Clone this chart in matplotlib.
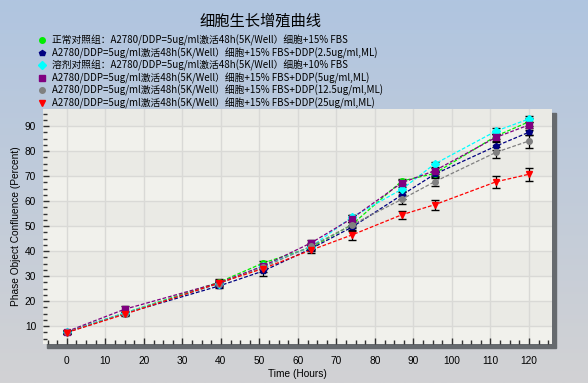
import numpy as np
import matplotlib
matplotlib.use("Agg")
import matplotlib.pyplot as plt
from matplotlib.lines import Line2D
from matplotlib.patches import Rectangle
from matplotlib.ticker import MultipleLocator

plt.rcParams['font.family'] = ['Noto Sans CJK SC', 'DejaVu Sans']

title = "细胞生长增殖曲线"
times = [0, 15, 39.5, 51, 63.5, 74, 87, 95.5, 111.5, 120]
labels = [
    "正常对照组：A2780/DDP=5ug/ml激活48h(5K/Well）细胞+15% FBS",
    "A2780/DDP=5ug/ml激活48h(5K/Well）细胞+15% FBS+DDP(2.5ug/ml,ML)",
    "溶剂对照组：A2780/DDP=5ug/ml激活48h(5K/Well）细胞+10% FBS",
    "A2780/DDP=5ug/ml激活48h(5K/Well）细胞+15% FBS+DDP(5ug/ml,ML)",
    "A2780/DDP=5ug/ml激活48h(5K/Well）细胞+15% FBS+DDP(12.5ug/ml,ML)",
    "A2780/DDP=5ug/ml激活48h(5K/Well）细胞+15% FBS+DDP(25ug/ml,ML)",
]
green = [7.7, 15.2, 27.5, 35.2, 41.5, 50.5, 68.0, 71.0, 86.0, 91.7]
navy = [7.5, 15.0, 26.0, 32.0, 41.0, 49.5, 62.4, 70.7, 82.0, 87.5]
cyan = [7.7, 15.2, 27.0, 34.0, 41.8, 53.5, 64.7, 74.8, 88.0, 92.8]
purple = [7.8, 16.7, 27.3, 34.0, 43.3, 53.0, 67.3, 72.1, 85.5, 90.4]
gray = [7.6, 15.0, 27.0, 33.5, 42.0, 50.4, 60.7, 67.7, 79.5, 84.0]
red = [7.4, 14.7, 27.2, 33.0, 40.4, 46.4, 54.5, 58.5, 67.7, 70.7]
err_green = [0.5, 0.5, 0.8, 0.8, 1.0, 1.0, 1.0, 1.0, 1.0, 1.5]
err_navy = [0.5, 0.5, 0.8, 1.8, 1.0, 1.0, 1.5, 1.0, 1.5, 1.0]
err_cyan = [0.5, 0.5, 0.5, 0.8, 0.8, 1.0, 1.0, 1.0, 1.3, 1.3]
err_purple = [0.5, 1.2, 0.8, 1.0, 1.2, 1.5, 1.0, 1.2, 1.5, 1.2]
err_gray = [0.5, 0.5, 0.8, 0.8, 1.2, 1.3, 1.8, 1.5, 2.3, 2.6]
err_red = [0.6, 0.6, 1.5, 1.2, 1.2, 1.8, 1.5, 2.0, 2.5, 2.7]

series = [green, navy, cyan, purple, gray, red]
errors = [err_green, err_navy, err_cyan, err_purple, err_gray, err_red]
colors = ['#00ee00', '#000080', '#00ffff', '#800080', '#808080', '#ff0000']
markers = ['o', 'p', 'D', 's', 'o', 'v']

W, H = 588, 383
fig = plt.figure(figsize=(W / 100, H / 100), dpi=100)

# background gradient
bg = fig.add_axes([0, 0, 1, 1], zorder=-10)
grad = np.linspace(0, 1, 256)[:, None]
top = np.array([176, 197, 224]) / 255
bot = np.array([210, 210, 212]) / 255
img = top[None, None, :] * (1 - grad[:, :, None]) + bot[None, None, :] * grad[:, :, None]
bg.imshow(img, aspect='auto', extent=[0, 1, 0, 1])
bg.axis('off')

# shadow
fig.patches.append(Rectangle((47 / W, 1 - 348 / H), (556 - 47) / W, (348 - 113) / H,
                             transform=fig.transFigure, color='#666a6e', zorder=-5))

left, right, topy, boty = 43, 552, 109, 344
ax = fig.add_axes([left / W, 1 - boty / H, (right - left) / W, (boty - topy) / H])
ax.set_facecolor('#eeeee9')
ax.set_xlim(-6.2, 126)
ax.set_ylim(2.8, 96.8)
for lo in range(0, 100, 10):
    if (lo // 10) % 2 == 0:
        ax.axhspan(lo, lo + 10, color='#f1f1ec', zorder=0, lw=0)
    else:
        ax.axhspan(lo, lo + 10, color='#eaeae5', zorder=0, lw=0)
ax.grid(True, color='#d9d9d6', lw=1.0, zorder=1)
ax.set_axisbelow(True)
for s in ax.spines.values():
    s.set_visible(False)

for ys, es, c, m in zip(series, errors, colors, markers):
    ax.errorbar(times, ys, yerr=es, fmt='none', ecolor='black', elinewidth=0.9,
                capsize=3, capthick=1.0, zorder=3)
    ax.plot(times, ys, color=c, lw=0.9, ls=(0, (3, 1.5)), zorder=4)
    ax.plot(times, ys, ls='none', marker=m, color=c, ms=4, mec=c, zorder=5)

ax.xaxis.set_major_locator(MultipleLocator(10))
ax.xaxis.set_minor_locator(MultipleLocator(2.5))
ax.yaxis.set_major_locator(MultipleLocator(10))
ax.yaxis.set_minor_locator(MultipleLocator(2.5))
ax.set_yticks(range(10, 100, 10))
ax.tick_params(axis='both', which='both', direction='in', color='#333333', width=1,
               labelsize=7.3, labelfontfamily='Liberation Sans')
ax.tick_params(axis='x', which='major', length=4, pad=9)
ax.tick_params(axis='x', which='minor', length=3)
ax.tick_params(axis='y', which='major', length=4, pad=5)
ax.tick_params(axis='y', which='minor', length=3)
ax.set_xlabel("Time (Hours)", fontsize=7.3, family='Liberation Sans', labelpad=2)
ax.set_ylabel("Phase Object Confluence (Percent)", fontsize=7.3, family='Liberation Sans', labelpad=3)

fig.text(260 / W, 1 - 21 / H, title, ha='center', va='center', fontsize=11)

handles = [Line2D([], [], ls='none', marker=m, color=c, ms=4) for c, m in zip(colors, markers)]
fig.legend(handles, labels, loc='upper left', bbox_to_anchor=(38 / W, 1 - 35 / H),
           frameon=False, fontsize=7, handlelength=0.8, handletextpad=0.6,
           labelspacing=0.12, borderpad=0, borderaxespad=0)

fig.savefig('out.png', dpi=100)
